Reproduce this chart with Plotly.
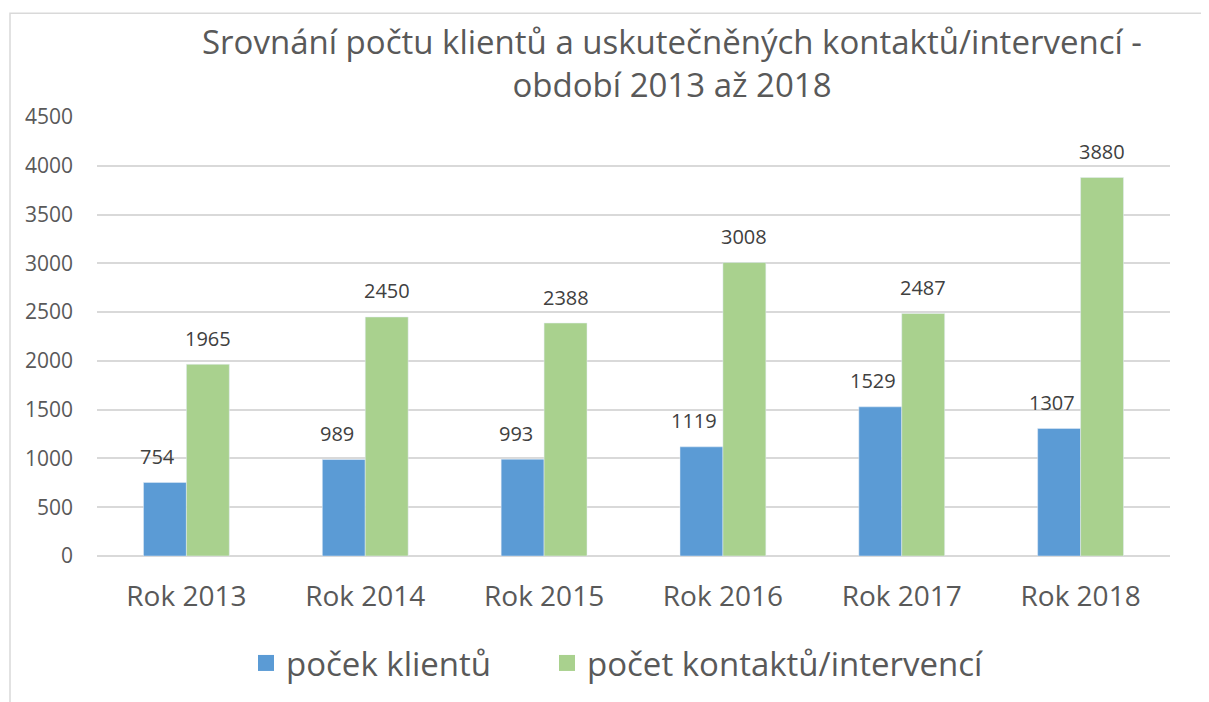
import plotly.graph_objects as go

categories = ["Rok 2013", "Rok 2014", "Rok 2015", "Rok 2016", "Rok 2017", "Rok 2018"]
klienti = [754, 989, 993, 1119, 1529, 1307]
kontakty = [1965, 2450, 2388, 3008, 2487, 3880]
series_names = ["poček klientů", "počet kontaktů/intervencí"]
y_ticks = [0, 500, 1000, 1500, 2000, 2500, 3000, 3500, 4000, 4500]

TXT = "#595959"
LBL = "#404040"
FONT = "Open Sans"
BLUE = "#5B9BD5"
GREEN = "#A9D18E"

# page body has an 8px margin, so the figure starts at (8, 8) in the window
W, H = 1201, 694
L, R, T, B = 89, 39, 109, 145
pw = W - L - R
ph = H - T - B
BARGAP = 0.52
bar_px = pw / len(categories) * (1 - BARGAP) / 2


def px_x(p):
    return (p - L) / pw


def px_y(p):
    return (H - B - p) / ph


fig = go.Figure()
fig.add_trace(go.Bar(x=categories, y=klienti, name=series_names[0], marker_color=BLUE,
                     showlegend=False, legendgroup="a"))
fig.add_trace(go.Bar(x=categories, y=kontakty, name=series_names[1], marker_color=GREEN,
                     showlegend=False, legendgroup="b"))
# legend entries (larger square symbols)
fig.add_trace(go.Scatter(x=[None], y=[None], mode="markers", name=series_names[0],
                         marker=dict(symbol="square", size=22, color=BLUE), legendgroup="a",
                         legend="legend"))
fig.add_trace(go.Scatter(x=[None], y=[None], mode="markers", name=series_names[1],
                         marker=dict(symbol="square", size=22, color=GREEN), legendgroup="b",
                         legend="legend2"))

annotations = []
for cat, v in zip(categories, klienti):
    annotations.append(dict(x=cat, y=v, xref="x", yref="y", text=str(v), showarrow=False,
                            xshift=-bar_px / 2 - 7, yshift=26, yanchor="middle",
                            font=dict(size=20, color=LBL, family=FONT)))
for cat, v in zip(categories, kontakty):
    annotations.append(dict(x=cat, y=v, xref="x", yref="y", text=str(v), showarrow=False,
                            xshift=bar_px / 2, yshift=26, yanchor="middle",
                            font=dict(size=20, color=LBL, family=FONT)))

legend_style = dict(orientation="h", xanchor="left", y=px_y(655), yanchor="middle",
                    font=dict(size=33, color=TXT), itemwidth=30, bgcolor="rgba(0,0,0,0)")

fig.update_layout(
    width=W, height=H,
    margin=dict(l=L, r=R, t=T, b=B),
    paper_bgcolor="white", plot_bgcolor="white",
    font=dict(family=FONT, color=TXT),
    barmode="group", bargap=BARGAP, bargroupgap=0,
    title=dict(text="Srovnání počtu klientů a uskutečněných kontaktů/intervencí -<br>období 2013 až 2018",
               x=664 / W, xanchor="center", xref="container",
               y=1 - 46 / H, yanchor="middle", yref="container",
               font=dict(size=33, color=TXT, family=FONT)),
    xaxis=dict(tickfont=dict(size=28, color=TXT), showgrid=False, showline=False,
               ticks="", ticklabelstandoff=21),
    yaxis=dict(range=[0, 4500], tickvals=y_ticks, tickfont=dict(size=21, color=TXT),
               showgrid=True, gridcolor="#D9D9D9", gridwidth=1.5, zeroline=True,
               zerolinecolor="#D9D9D9", zerolinewidth=1.5, showline=False,
               ticks="", ticklabelstandoff=23),
    legend=dict(x=px_x(238), **legend_style),
    legend2=dict(x=px_x(539), **legend_style),
    showlegend=True,
    annotations=annotations,
)

fig.add_shape(type="rect", xref="paper", yref="paper",
              x0=px_x(2), x1=px_x(W + 20), y0=px_y(H + 20), y1=px_y(5),
              line=dict(color="#D9D9D9", width=1.5), fillcolor="rgba(0,0,0,0)", layer="below")

fig.write_html("out.html")
